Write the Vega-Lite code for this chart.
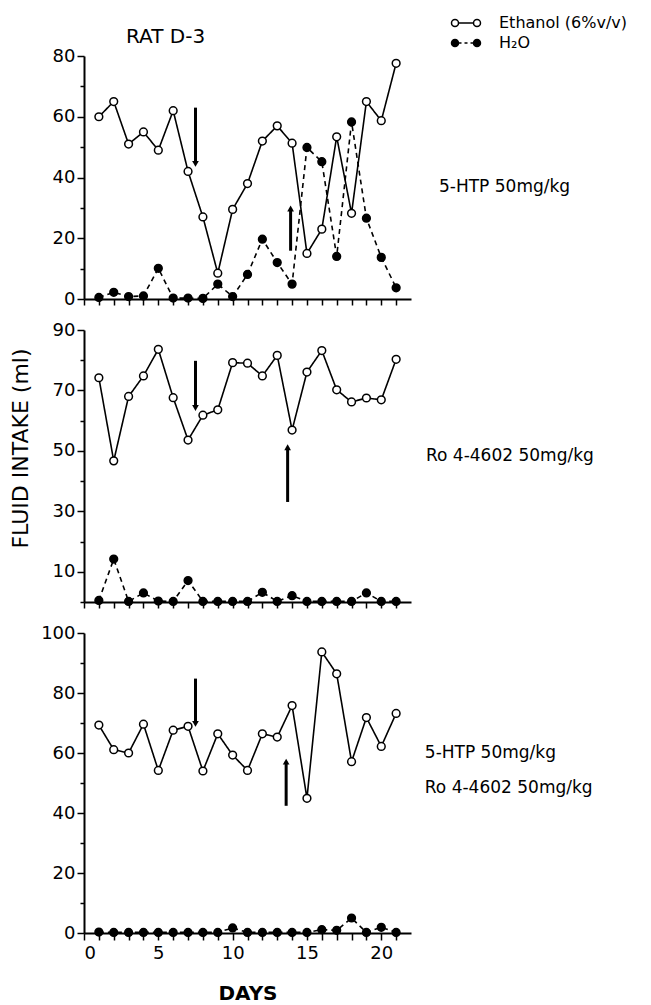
{
  "$schema": "https://vega.github.io/schema/vega-lite/v6.json",
  "background": "white",
  "padding": {"left": 9, "top": 12, "right": 5, "bottom": 0},
  "title": {"text": "RAT D-3", "anchor": "start", "frame": "group", "dx": 42, "fontSize": 20, "font": "DejaVu Sans", "fontWeight": "normal", "color": "black", "offset": -35},
  "config": {
    "font": "DejaVu Sans",
    "view": {"stroke": null},
    "axis": {"domainColor": "black", "domainWidth": 2, "tickColor": "black", "tickWidth": 1.5, "labelColor": "black", "labelFont": "DejaVu Sans", "labelFontSize": 18, "grid": false, "titleFont": "DejaVu Sans", "titleColor": "black", "titleFontWeight": "normal"},
    "title": {"color": "black", "font": "DejaVu Sans", "fontWeight": "normal"}
  },
  "datasets": {
    "p1": [
      {"day": 1, "fluid": "ethanol", "ml": 60}, {"day": 2, "fluid": "ethanol", "ml": 65}, {"day": 3, "fluid": "ethanol", "ml": 51}, {"day": 4, "fluid": "ethanol", "ml": 55}, {"day": 5, "fluid": "ethanol", "ml": 49}, {"day": 6, "fluid": "ethanol", "ml": 62}, {"day": 7, "fluid": "ethanol", "ml": 42}, {"day": 8, "fluid": "ethanol", "ml": 27}, {"day": 9, "fluid": "ethanol", "ml": 8.5}, {"day": 10, "fluid": "ethanol", "ml": 29.5}, {"day": 11, "fluid": "ethanol", "ml": 38}, {"day": 12, "fluid": "ethanol", "ml": 52}, {"day": 13, "fluid": "ethanol", "ml": 57}, {"day": 14, "fluid": "ethanol", "ml": 51.3}, {"day": 15, "fluid": "ethanol", "ml": 15}, {"day": 16, "fluid": "ethanol", "ml": 23}, {"day": 17, "fluid": "ethanol", "ml": 53.4}, {"day": 18, "fluid": "ethanol", "ml": 28.2}, {"day": 19, "fluid": "ethanol", "ml": 65}, {"day": 20, "fluid": "ethanol", "ml": 58.7}, {"day": 21, "fluid": "ethanol", "ml": 77.6},
      {"day": 1, "fluid": "water", "ml": 0.5}, {"day": 2, "fluid": "water", "ml": 2.2}, {"day": 3, "fluid": "water", "ml": 0.8}, {"day": 4, "fluid": "water", "ml": 1}, {"day": 5, "fluid": "water", "ml": 10.1}, {"day": 6, "fluid": "water", "ml": 0.3}, {"day": 7, "fluid": "water", "ml": 0.3}, {"day": 8, "fluid": "water", "ml": 0.2}, {"day": 9, "fluid": "water", "ml": 4.9}, {"day": 10, "fluid": "water", "ml": 0.8}, {"day": 11, "fluid": "water", "ml": 8.1}, {"day": 12, "fluid": "water", "ml": 19.7}, {"day": 13, "fluid": "water", "ml": 12}, {"day": 14, "fluid": "water", "ml": 4.9}, {"day": 15, "fluid": "water", "ml": 49.9}, {"day": 16, "fluid": "water", "ml": 45.2}, {"day": 17, "fluid": "water", "ml": 14}, {"day": 18, "fluid": "water", "ml": 58.3}, {"day": 19, "fluid": "water", "ml": 26.6}, {"day": 20, "fluid": "water", "ml": 13.7}, {"day": 21, "fluid": "water", "ml": 3.7}
    ],
    "p2": [
      {"day": 1, "fluid": "ethanol", "ml": 74.2}, {"day": 2, "fluid": "ethanol", "ml": 46.7}, {"day": 3, "fluid": "ethanol", "ml": 68}, {"day": 4, "fluid": "ethanol", "ml": 74.8}, {"day": 5, "fluid": "ethanol", "ml": 83.6}, {"day": 6, "fluid": "ethanol", "ml": 67.6}, {"day": 7, "fluid": "ethanol", "ml": 53.6}, {"day": 8, "fluid": "ethanol", "ml": 61.8}, {"day": 9, "fluid": "ethanol", "ml": 63.6}, {"day": 10, "fluid": "ethanol", "ml": 79.2}, {"day": 11, "fluid": "ethanol", "ml": 79}, {"day": 12, "fluid": "ethanol", "ml": 74.8}, {"day": 13, "fluid": "ethanol", "ml": 81.6}, {"day": 14, "fluid": "ethanol", "ml": 56.9}, {"day": 15, "fluid": "ethanol", "ml": 76.1}, {"day": 16, "fluid": "ethanol", "ml": 83.2}, {"day": 17, "fluid": "ethanol", "ml": 70.2}, {"day": 18, "fluid": "ethanol", "ml": 66.2}, {"day": 19, "fluid": "ethanol", "ml": 67.5}, {"day": 20, "fluid": "ethanol", "ml": 66.9}, {"day": 21, "fluid": "ethanol", "ml": 80.3},
      {"day": 1, "fluid": "water", "ml": 0.5}, {"day": 2, "fluid": "water", "ml": 14.2}, {"day": 3, "fluid": "water", "ml": 0.2}, {"day": 4, "fluid": "water", "ml": 3}, {"day": 5, "fluid": "water", "ml": 0.3}, {"day": 6, "fluid": "water", "ml": 0.2}, {"day": 7, "fluid": "water", "ml": 7.1}, {"day": 8, "fluid": "water", "ml": 0.2}, {"day": 9, "fluid": "water", "ml": 0.2}, {"day": 10, "fluid": "water", "ml": 0.2}, {"day": 11, "fluid": "water", "ml": 0.2}, {"day": 12, "fluid": "water", "ml": 3.2}, {"day": 13, "fluid": "water", "ml": 0.2}, {"day": 14, "fluid": "water", "ml": 2.1}, {"day": 15, "fluid": "water", "ml": 0.2}, {"day": 16, "fluid": "water", "ml": 0.2}, {"day": 17, "fluid": "water", "ml": 0.2}, {"day": 18, "fluid": "water", "ml": 0.2}, {"day": 19, "fluid": "water", "ml": 3}, {"day": 20, "fluid": "water", "ml": 0.2}, {"day": 21, "fluid": "water", "ml": 0.2}
    ],
    "p3": [
      {"day": 1, "fluid": "ethanol", "ml": 69.3}, {"day": 2, "fluid": "ethanol", "ml": 61.1}, {"day": 3, "fluid": "ethanol", "ml": 60}, {"day": 4, "fluid": "ethanol", "ml": 69.6}, {"day": 5, "fluid": "ethanol", "ml": 54.2}, {"day": 6, "fluid": "ethanol", "ml": 67.6}, {"day": 7, "fluid": "ethanol", "ml": 68.9}, {"day": 8, "fluid": "ethanol", "ml": 54}, {"day": 9, "fluid": "ethanol", "ml": 66.4}, {"day": 10, "fluid": "ethanol", "ml": 59.3}, {"day": 11, "fluid": "ethanol", "ml": 54.2}, {"day": 12, "fluid": "ethanol", "ml": 66.4}, {"day": 13, "fluid": "ethanol", "ml": 65.3}, {"day": 14, "fluid": "ethanol", "ml": 75.8}, {"day": 15, "fluid": "ethanol", "ml": 44.9}, {"day": 16, "fluid": "ethanol", "ml": 93.7}, {"day": 17, "fluid": "ethanol", "ml": 86.4}, {"day": 18, "fluid": "ethanol", "ml": 57.1}, {"day": 19, "fluid": "ethanol", "ml": 71.8}, {"day": 20, "fluid": "ethanol", "ml": 62.2}, {"day": 21, "fluid": "ethanol", "ml": 73.2},
      {"day": 1, "fluid": "water", "ml": 0.3}, {"day": 2, "fluid": "water", "ml": 0.2}, {"day": 3, "fluid": "water", "ml": 0.2}, {"day": 4, "fluid": "water", "ml": 0.2}, {"day": 5, "fluid": "water", "ml": 0.2}, {"day": 6, "fluid": "water", "ml": 0.2}, {"day": 7, "fluid": "water", "ml": 0.2}, {"day": 8, "fluid": "water", "ml": 0.2}, {"day": 9, "fluid": "water", "ml": 0.2}, {"day": 10, "fluid": "water", "ml": 1.7}, {"day": 11, "fluid": "water", "ml": 0.2}, {"day": 12, "fluid": "water", "ml": 0.2}, {"day": 13, "fluid": "water", "ml": 0.2}, {"day": 14, "fluid": "water", "ml": 0.2}, {"day": 15, "fluid": "water", "ml": 0.2}, {"day": 16, "fluid": "water", "ml": 1.1}, {"day": 17, "fluid": "water", "ml": 0.9}, {"day": 18, "fluid": "water", "ml": 5}, {"day": 19, "fluid": "water", "ml": 0.2}, {"day": 20, "fluid": "water", "ml": 1.9}, {"day": 21, "fluid": "water", "ml": 0.2}
    ],
    "a1": [{"day": 7.5, "from": 63, "to": 44.5, "dir": "down"}, {"day": 13.9, "from": 15.9, "to": 29.8, "dir": "up"}],
    "a2": [{"day": 7.5, "from": 79.8, "to": 64.2, "dir": "down"}, {"day": 13.7, "from": 33.1, "to": 51.2, "dir": "up"}],
    "a3": [{"day": 7.5, "from": 84.8, "to": 69.7, "dir": "down"}, {"day": 13.6, "from": 42.4, "to": 57.1, "dir": "up"}],
    "leg": [{"series": "Ethanol (6%v/v)"}, {"series": "H₂O"}]
  },
  "spacing": 31,
  "bounds": "flush",
  "resolve": {"scale": {"x": "independent", "y": "independent"}},
  "vconcat": [
    {
      "width": 327, "height": 243,
      "title": {"text": "5-HTP 50mg/kg", "orient": "right", "angle": 0, "align": "right", "baseline": "middle", "anchor": "middle", "offset": 28, "dy": 9, "fontSize": 17},
      "encoding": {
        "x": {"field": "day", "type": "quantitative", "scale": {"domain": [0, 22], "nice": false}, "axis": {"values": [0,1,2,3,4,5,6,7,8,9,10,11,12,13,14,15,16,17,18,19,20,21], "labels": false, "tickSize": 6, "title": null}},
        "y": {"field": "ml", "type": "quantitative", "title": null, "scale": {"domain": [0, 80], "nice": false}, "axis": {"values": [0,10,20,30,40,50,60,70,80], "labelExpr": "datum.value % 20 === 0 ? datum.label : ''", "tickSize": {"condition": {"test": "datum.value % 20 === 0", "value": 7}, "value": 4}, "labelPadding": 2}}
      },
      "layer": [
        {"data": {"name": "p1"}, "mark": {"type": "line", "color": "black", "strokeWidth": 1.6}, "encoding": {"detail": {"field": "fluid"}, "strokeDash": {"condition": {"test": "datum.fluid === 'water'", "value": [5, 4]}, "value": [1, 0]}}},
        {"data": {"name": "p1"}, "mark": {"type": "point", "filled": true, "size": 60, "stroke": "black", "strokeWidth": 1.5, "opacity": 1}, "encoding": {"fill": {"condition": {"test": "datum.fluid === 'water'", "value": "black"}, "value": "white"}}},
        {"data": {"name": "a1"}, "mark": {"type": "rule", "color": "black", "strokeWidth": 3}, "encoding": {"y": {"field": "from", "type": "quantitative", "title": null}, "y2": {"field": "to"}}},
        {"data": {"name": "a1"}, "mark": {"type": "point", "filled": true, "color": "black", "size": 45, "opacity": 1}, "encoding": {"y": {"field": "to", "type": "quantitative", "title": null}, "shape": {"condition": {"test": "datum.dir === 'down'", "value": "triangle-down"}, "value": "triangle-up"}}},
        {"data": {"name": "leg"}, "mark": {"type": "point", "filled": false, "color": "black", "strokeWidth": 1.5, "opacity": 1},
         "encoding": {
           "shape": {"field": "series", "type": "nominal", "scale": {"domain": ["Ethanol (6%v/v)", "H₂O"], "range": [
             "M-1.45,0A0.35,0.35 0 1,0 -0.75,0A0.35,0.35 0 1,0 -1.45,0ZM-0.75,0L0.75,0M0.75,0A0.35,0.35 0 1,0 1.45,0A0.35,0.35 0 1,0 0.75,0Z",
             "M-1.45,0A0.35,0.35 0 1,0 -0.75,0A0.35,0.35 0 1,0 -1.45,0ZM-1.3,0A0.2,0.2 0 1,0 -0.9,0A0.2,0.2 0 1,0 -1.3,0ZM-1.17,0A0.07,0.07 0 1,0 -1.03,0A0.07,0.07 0 1,0 -1.17,0ZM-0.75,0L-0.45,0M-0.15,0L0.15,0M0.45,0L0.75,0M0.75,0A0.35,0.35 0 1,0 1.45,0A0.35,0.35 0 1,0 0.75,0ZM0.9,0A0.2,0.2 0 1,0 1.3,0A0.2,0.2 0 1,0 0.9,0ZM1.03,0A0.07,0.07 0 1,0 1.17,0A0.07,0.07 0 1,0 1.03,0Z"]},
             "legend": {"title": null, "orient": "none", "legendX": 371, "legendY": -44, "symbolSize": 400, "symbolStrokeColor": "black", "symbolFillColor": "white", "symbolStrokeWidth": 1.5, "symbolOpacity": 1, "labelFontSize": 16, "labelFont": "DejaVu Sans", "labelColor": "black", "labelOffset": 22, "rowPadding": 1, "padding": 0}}
         }}
      ]
    },
    {
      "width": 327, "height": 272,
      "title": {"text": "Ro 4-4602 50mg/kg", "orient": "right", "angle": 0, "align": "right", "baseline": "middle", "anchor": "middle", "offset": 15, "dy": -10, "fontSize": 17},
      "encoding": {
        "x": {"field": "day", "type": "quantitative", "scale": {"domain": [0, 22], "nice": false}, "axis": {"values": [0,1,2,3,4,5,6,7,8,9,10,11,12,13,14,15,16,17,18,19,20,21], "labels": false, "tickSize": 6, "title": null}},
        "y": {"field": "ml", "type": "quantitative", "title": "FLUID INTAKE (ml)", "scale": {"domain": [0, 90], "nice": false}, "axis": {"values": [0,10,20,30,40,50,60,70,80,90], "labelExpr": "datum.value % 20 === 10 ? datum.label : ''", "tickSize": {"condition": {"test": "datum.value % 20 === 10", "value": 7}, "value": 4}, "labelPadding": 2, "titleFontSize": 22, "titleY": 118, "titlePadding": 20}}
      },
      "layer": [
        {"data": {"name": "p2"}, "mark": {"type": "line", "color": "black", "strokeWidth": 1.6}, "encoding": {"detail": {"field": "fluid"}, "strokeDash": {"condition": {"test": "datum.fluid === 'water'", "value": [5, 4]}, "value": [1, 0]}}},
        {"data": {"name": "p2"}, "mark": {"type": "point", "filled": true, "size": 60, "stroke": "black", "strokeWidth": 1.5, "opacity": 1}, "encoding": {"fill": {"condition": {"test": "datum.fluid === 'water'", "value": "black"}, "value": "white"}}},
        {"data": {"name": "a2"}, "mark": {"type": "rule", "color": "black", "strokeWidth": 3}, "encoding": {"y": {"field": "from", "type": "quantitative", "title": "FLUID INTAKE (ml)"}, "y2": {"field": "to"}}},
        {"data": {"name": "a2"}, "mark": {"type": "point", "filled": true, "color": "black", "size": 45, "opacity": 1}, "encoding": {"y": {"field": "to", "type": "quantitative", "title": "FLUID INTAKE (ml)"}, "shape": {"condition": {"test": "datum.dir === 'down'", "value": "triangle-down"}, "value": "triangle-up"}}}
      ]
    },
    {
      "width": 327, "height": 300,
      "title": {"text": ["5-HTP 50mg/kg", "Ro 4-4602 50mg/kg"], "orient": "right", "angle": 0, "align": "left", "baseline": "middle", "anchor": "middle", "offset": 13, "dx": -167, "dy": -30, "fontSize": 17, "lineHeight": 35},
      "encoding": {
        "x": {"field": "day", "type": "quantitative", "scale": {"domain": [0, 22], "nice": false}, "axis": {"values": [0,1,2,3,4,5,6,7,8,9,10,11,12,13,14,15,16,17,18,19,20,21], "labelExpr": "datum.value % 5 === 0 ? datum.label : ''", "tickSize": 7, "labelPadding": 4, "title": "DAYS", "titleFontSize": 20, "titleFontWeight": "bold", "titlePadding": 21}},
        "y": {"field": "ml", "type": "quantitative", "title": null, "scale": {"domain": [0, 100], "nice": false}, "axis": {"values": [0,10,20,30,40,50,60,70,80,90,100], "labelExpr": "datum.value % 20 === 0 ? datum.label : ''", "tickSize": {"condition": {"test": "datum.value % 20 === 0", "value": 7}, "value": 4}, "labelPadding": 2}}
      },
      "layer": [
        {"data": {"name": "p3"}, "mark": {"type": "line", "color": "black", "strokeWidth": 1.6}, "encoding": {"detail": {"field": "fluid"}, "strokeDash": {"condition": {"test": "datum.fluid === 'water'", "value": [5, 4]}, "value": [1, 0]}}},
        {"data": {"name": "p3"}, "mark": {"type": "point", "filled": true, "size": 60, "stroke": "black", "strokeWidth": 1.5, "opacity": 1}, "encoding": {"fill": {"condition": {"test": "datum.fluid === 'water'", "value": "black"}, "value": "white"}}},
        {"data": {"name": "a3"}, "mark": {"type": "rule", "color": "black", "strokeWidth": 3}, "encoding": {"y": {"field": "from", "type": "quantitative", "title": null}, "y2": {"field": "to"}}},
        {"data": {"name": "a3"}, "mark": {"type": "point", "filled": true, "color": "black", "size": 45, "opacity": 1}, "encoding": {"y": {"field": "to", "type": "quantitative", "title": null}, "shape": {"condition": {"test": "datum.dir === 'down'", "value": "triangle-down"}, "value": "triangle-up"}}}
      ]
    }
  ]
}
